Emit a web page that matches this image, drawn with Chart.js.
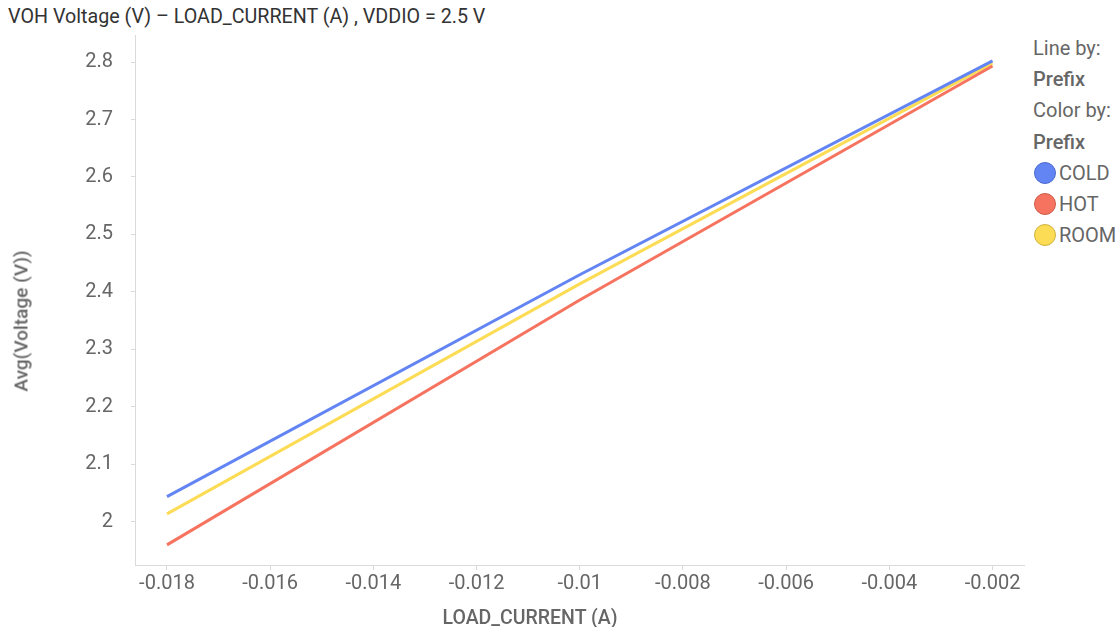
<!DOCTYPE html>
<html lang="en">
<head>
    <meta charset="UTF-8">
    <title>VOH Voltage vs LOAD_CURRENT</title>
    <script src="https://cdn.jsdelivr.net/npm/chart.js"></script>
    <style>
        body { margin: 0; background: #fff; font-family: Roboto, "Noto Sans", sans-serif; }
        .wrap { position: relative; width: 1118px; height: 627px; overflow: hidden; }
        .chart-box { position: absolute; left: 0; top: 0; width: 1030px; height: 627px; }
        .title { position: absolute; left: 8px; top: 5px; font-size: 19.7px; color: #333; white-space: nowrap; }
        .ytitle { position: absolute; left: 21px; top: 321px; transform: translate(-50%, -50%) rotate(-90deg);
                  font-size: 19px; color: #666; font-weight: 500; white-space: nowrap; }
        .xtitle { position: absolute; left: 530px; top: 617px; transform: translate(-50%, -50%);
                  font-size: 19.5px; color: #666; font-weight: 500; white-space: nowrap; }
        .legend { position: absolute; left: 1033px; top: 35px; font-size: 20px; color: #666; }
        .legend div { height: 31.2px; line-height: 26px; white-space: nowrap; }
        .legend b { font-weight: 500; }
        .legend .item { display: flex; align-items: flex-start; }
        .dot { width: 22px; height: 22px; border-radius: 50%; box-sizing: border-box; border: 1.5px solid; margin: 2px 3px 0 1px; }
    </style>
</head>
<body>
<div class="wrap">
    <div class="title">VOH Voltage (V) &ndash; LOAD_CURRENT (A) , VDDIO = 2.5 V</div>
    <div class="chart-box"><canvas id="voh"></canvas></div>
    <div class="ytitle">Avg(Voltage (V))</div>
    <div class="xtitle">LOAD_CURRENT (A)</div>
    <div class="legend" id="legend">
        <div>Line by:</div>
        <div><b>Prefix</b></div>
        <div>Color by:</div>
        <div><b>Prefix</b></div>
    </div>
</div>
<script>
    // values
    const loadCurrent = [-0.018, -0.010, -0.002];
    const cold = [2.044, 2.430, 2.802];
    const hot = [1.960, 2.386, 2.793];
    const room = [2.014, 2.414, 2.798];

    const seriesNames = ['COLD', 'HOT', 'ROOM'];
    const xTicks = [-0.018, -0.016, -0.014, -0.012, -0.01, -0.008, -0.006, -0.004, -0.002];
    const yTicks = [2, 2.1, 2.2, 2.3, 2.4, 2.5, 2.6, 2.7, 2.8];

    const lineColors = ['#6385f3', '#f6735f', '#fcdc55'];
    const dotBorders = ['#4a6ad0', '#cf5a48', '#cfb23c'];

    function points(values) {
        return loadCurrent.map((x, i) => ({ x: x, y: values[i] }));
    }

    const fmt = v => String(+(+v).toFixed(3));
    const gray = '#666';
    const axisColor = '#dadada';

    new Chart(document.getElementById('voh'), {
        type: 'line',
        data: {
            datasets: [cold, hot, room].map((vals, i) => ({
                label: seriesNames[i],
                data: points(vals),
                borderColor: lineColors[i],
                backgroundColor: lineColors[i],
                borderWidth: 3,
                pointRadius: 0,
                tension: 0
            }))
        },
        options: {
            responsive: true,
            maintainAspectRatio: false,
            animation: false,
            layout: { padding: { top: 35, right: 6, left: 0, bottom: 0 } },
            plugins: { legend: { display: false }, tooltip: { enabled: false } },
            scales: {
                x: {
                    type: 'linear',
                    min: -0.01862,
                    max: -0.00139,
                    afterBuildTicks: s => { s.ticks = xTicks.map(v => ({ value: v })); },
                    afterFit: s => { s.height = 62; },
                    grid: { drawOnChartArea: false, tickLength: 5, color: axisColor },
                    border: { color: axisColor },
                    ticks: { color: gray, font: { family: 'Roboto', size: 20 }, padding: 2,
                             maxRotation: 0, autoSkip: false, callback: fmt }
                },
                y: {
                    min: 1.925,
                    max: 2.847,
                    afterBuildTicks: s => { s.ticks = yTicks.map(v => ({ value: v })); },
                    afterFit: s => { s.width = 135; },
                    grid: { drawOnChartArea: false, tickLength: 4, color: axisColor },
                    border: { color: axisColor },
                    ticks: { color: gray, font: { family: 'Roboto', size: 20 }, padding: 18,
                             autoSkip: false, callback: fmt }
                }
            }
        }
    });

    const legend = document.getElementById('legend');
    seriesNames.forEach((name, i) => {
        const row = document.createElement('div');
        row.className = 'item';
        const dot = document.createElement('span');
        dot.className = 'dot';
        dot.style.background = lineColors[i];
        dot.style.borderColor = dotBorders[i];
        row.appendChild(dot);
        row.appendChild(document.createTextNode(name));
        legend.appendChild(row);
    });
</script>
</body>
</html>
